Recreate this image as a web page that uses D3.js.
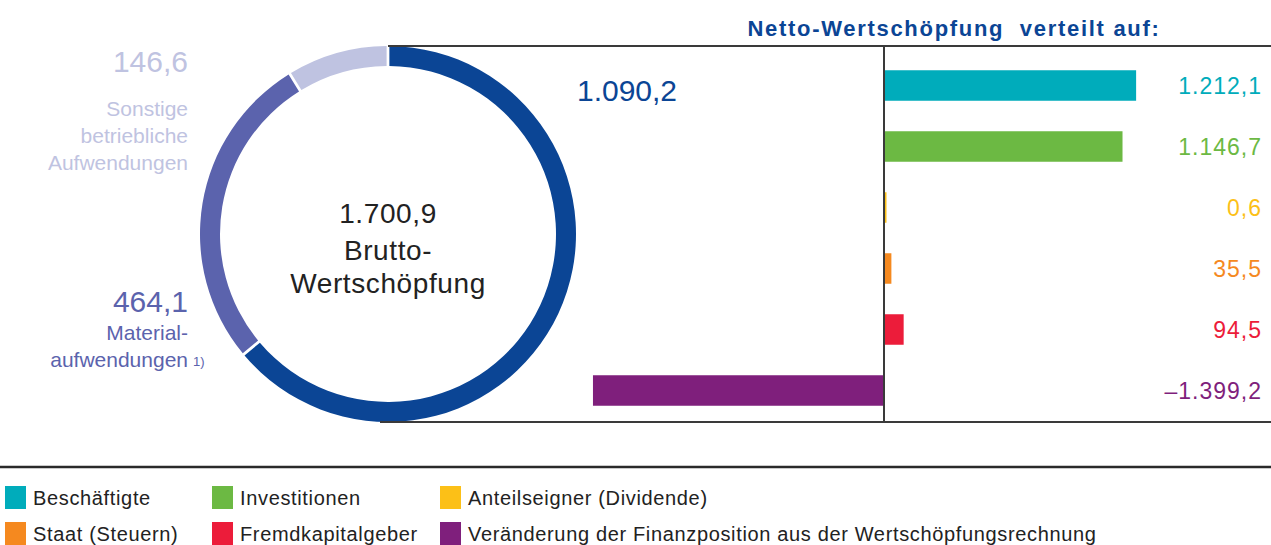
<!DOCTYPE html>
<html>
<head>
<meta charset="utf-8">
<script src="https://cdn.jsdelivr.net/npm/d3@7"></script>
<style>
body { margin: 0; background: #fff; }
svg { display: block; font-family: "Liberation Sans", Arial, sans-serif; }
</style>
</head>
<body>
<svg id="svg" width="1271" height="545"></svg>
<script>
// donut: Brutto-Wertschöpfung split
const donutKeys = ['netto', 'material', 'sonstige']
const donutValues = [1090.2, 464.1, 146.6]
const donutTotal = 1700.9
const donutColors = ['#0b4595', '#5b63ad', '#bfc3e1']

// bars: Netto-Wertschöpfung verteilt auf
const categories = [
	'Beschäftigte',
	'Investitionen',
	'Anteilseigner (Dividende)',
	'Staat (Steuern)',
	'Fremdkapitalgeber',
	'Veränderung der Finanzposition aus der Wertschöpfungsrechnung'
]
const values = [1212.1, 1146.7, 0.6, 35.5, 94.5, -1399.2]
const barColors = ['#00acbb', '#6cb943', '#fcc017', '#f5891f', '#ec1c3a', '#7f1f7c']

const de = d3.formatLocale({ decimal: ',', thousands: '.', grouping: [3], currency: ['', ' €'], minus: '–' })
const fmt = de.format(',.1f')

const $svg = d3.select('#svg')

// ---- donut ----
const cx = 388
const cy = 234
const pie = d3.pie().sort(null).padAngle(0.011)
const arc = d3.arc().innerRadius(168).outerRadius(188)

const $donut = $svg.append('g').attr('transform', `translate(${cx},${cy})`)
$donut.selectAll('path')
	.data(pie(donutValues))
	.join('path')
	.attr('d', arc)
	.attr('fill', (d, i) => donutColors[i])

// centre text
const $center = $donut.append('g')
	.attr('text-anchor', 'middle')
	.attr('fill', '#222')
	.style('font-size', '28px')
	.style('letter-spacing', '0.6px')
$center.append('text').attr('y', -11).text(fmt(donutTotal))
$center.append('text').attr('y', 26).text('Brutto-')
$center.append('text').attr('y', 59).text('Wertschöpfung')

// netto value
$svg.append('text')
	.attr('x', 627).attr('y', 101)
	.attr('text-anchor', 'middle')
	.attr('fill', donutColors[0])
	.style('font-size', '30px')
	.text(fmt(donutValues[0]))

// left labels
const $left = $svg.append('g').attr('text-anchor', 'end')
$left.append('text')
	.attr('x', 188).attr('y', 72)
	.attr('fill', donutColors[2])
	.style('font-size', '30px')
	.text(fmt(donutValues[2]))
;['Sonstige', 'betriebliche', 'Aufwendungen'].forEach((t, i) => {
	$left.append('text')
		.attr('x', 188).attr('y', 116 + i * 27)
		.attr('fill', donutColors[2])
		.style('font-size', '21px')
		.text(t)
})
$left.append('text')
	.attr('x', 188).attr('y', 312)
	.attr('fill', donutColors[1])
	.style('font-size', '30px')
	.text(fmt(donutValues[1]))
$left.append('text')
	.attr('x', 188).attr('y', 340)
	.attr('fill', donutColors[1])
	.style('font-size', '21px')
	.text('Material-')
$left.append('text')
	.attr('x', 188).attr('y', 367)
	.attr('fill', donutColors[1])
	.style('font-size', '21px')
	.text('aufwendungen')
$svg.append('text')
	.attr('x', 193).attr('y', 366)
	.attr('fill', donutColors[1])
	.style('font-size', '13px')
	.text('1)')

// ---- bars ----
const x = d3.scaleLinear().domain([-1500, 1500]).range([572, 1196])
const y = d3.scaleBand().domain(categories).range([55, 421]).paddingInner(0.5).paddingOuter(0.25)

// frame lines
const lineColor = '#3a3a3a'
$svg.append('line')
	.attr('x1', cx).attr('x2', 1271).attr('y1', 46).attr('y2', 46)
	.attr('stroke', lineColor).attr('stroke-width', 2)
$svg.append('line')
	.attr('x1', 380).attr('x2', 1271).attr('y1', 422).attr('y2', 422)
	.attr('stroke', lineColor).attr('stroke-width', 2)

$svg.append('g').selectAll('rect')
	.data(values)
	.join('rect')
	.attr('x', d => Math.min(x(0), x(d)))
	.attr('y', (d, i) => y(categories[i]))
	.attr('width', d => Math.max(2.5, Math.abs(x(d) - x(0))))
	.attr('height', y.bandwidth())
	.attr('fill', (d, i) => barColors[i])

$svg.append('line')
	.attr('x1', x(0)).attr('x2', x(0)).attr('y1', 46).attr('y2', 422)
	.attr('stroke', lineColor).attr('stroke-width', 2)

$svg.append('g').selectAll('text')
	.data(values)
	.join('text')
	.attr('x', 1262)
	.attr('y', (d, i) => y(categories[i]) + y.bandwidth() / 2)
	.attr('dy', '0.36em')
	.attr('text-anchor', 'end')
	.attr('fill', (d, i) => barColors[i])
	.style('font-size', '23px')
	.style('letter-spacing', '1px')
	.text(d => fmt(d))

// title
$svg.append('text')
	.attr('x', 954).attr('y', 36)
	.attr('text-anchor', 'middle')
	.attr('fill', '#0b4595')
	.style('font-size', '22px')
	.style('font-weight', 'bold')
	.style('letter-spacing', '1.7px')
	.style('white-space', 'pre')
	.text('Netto-Wertschöpfung  verteilt auf:')

// ---- legend ----
$svg.append('line')
	.attr('x1', 0).attr('x2', 1271).attr('y1', 467).attr('y2', 467)
	.attr('stroke', '#2a2a2a').attr('stroke-width', 2.5)

const colX = [5, 212, 440]
const rowY = [486, 522]
const $legend = $svg.append('g').selectAll('g')
	.data(categories)
	.join('g')
	.attr('transform', (d, i) => `translate(${colX[i % 3]},${rowY[Math.floor(i / 3)]})`)
$legend.append('rect')
	.attr('width', 21).attr('height', 23)
	.attr('fill', (d, i) => barColors[i])
$legend.append('text')
	.attr('x', 28).attr('y', 19)
	.attr('fill', '#222')
	.style('font-size', '20px')
	.style('letter-spacing', '0.65px')
	.text(d => d)
</script>
</body>
</html>
